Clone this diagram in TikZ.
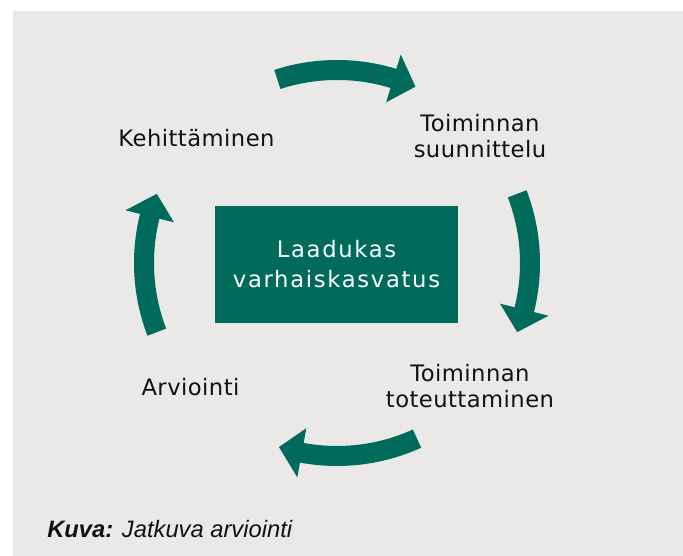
\documentclass[tikz,border=0pt]{standalone}
\usepackage{fontspec}
\setmainfont{DejaVu Sans}
\newfontfamily\lblfont[LetterSpace=2]{DejaVu Sans}
\newfontfamily\boxfont[LetterSpace=7.5]{DejaVu Sans}
\newfontfamily\capfont{Liberation Sans}
\definecolor{ophgreen}{HTML}{006B5A}
\definecolor{bggray}{HTML}{EBE9E7}
\definecolor{txtblack}{HTML}{111111}
\newcommand\cycarrow[3]{%
  \fill[cyc] (#1:183) arc[start angle=#1, end angle=#2, radius=183]
    -- (#2:168) -- (#3:193) -- (#2:218) -- (#2:203)
    arc[start angle=#2, end angle=#1, radius=203] -- cycle;}
\begin{document}
\begin{tikzpicture}[x=0.75pt,y=0.75pt,
  lbl/.style={font=\lblfont\fontsize{17}{19.7}\selectfont, text=txtblack, inner sep=0pt, align=center, anchor=base},
  cyc/.style={fill=ophgreen}]
\useasboundingbox (0,0) rectangle (683,556);
\fill[white] (0,0) rectangle (683,556);
\fill[bggray] (13,0) rectangle (683,545);
\coordinate (c) at (337,293);
\node[fill=ophgreen, text=white, minimum width=182.25pt, minimum height=87.75pt, inner sep=0pt, align=center,
  font=\boxfont\fontsize{17}{22.5}\selectfont] (core) at (336.5,291.5) {Laadukas\\varhaiskasvatus};
\node[lbl] (kehi) at (196.5,409.3) {Kehittäminen};
\node[lbl] (suun) at (480,398.3) {Toiminnan\\suunnittelu};
\node[lbl] (tote) at (470,148.7) {Toiminnan\\toteuttaminen};
\node[lbl] (arvi) at (190.5,160) {Arviointi};
\begin{scope}[shift={(c)}]
\cycarrow{108}{73}{66}
\cycarrow{21}{-14}{-21}
\cycarrow{-65.5}{-100.5}{-107.5}
\cycarrow{201}{166}{159}
\end{scope}
\node[anchor=base west, inner sep=0pt, text=txtblack, font=\capfont\fontsize{17.8}{20}\selectfont] (capt) at (47,18)
  {\textbf{\textit{Kuva:}} \textit{Jatkuva arviointi}};
\end{tikzpicture}
\end{document}
